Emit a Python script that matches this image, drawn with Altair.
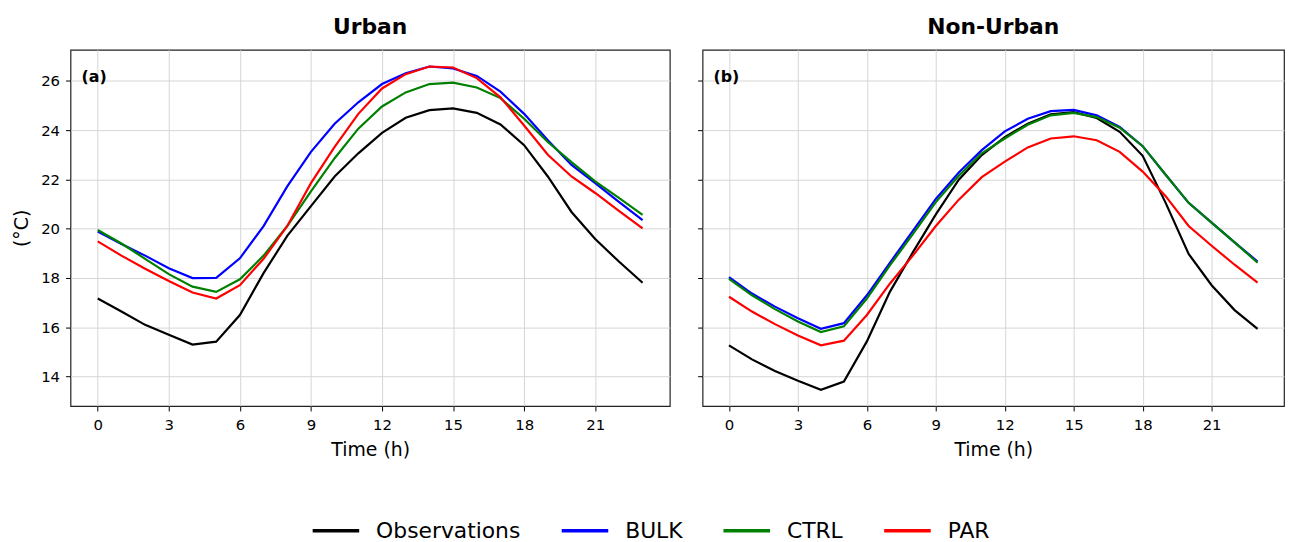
import altair as alt
import pandas as pd

hours = list(range(24))
series_names = ["Observations", "BULK", "CTRL", "PAR"]
series_colors = ["#000000", "#0000ff", "#008000", "#ff0000"]

urban_obs = [17.17, 16.64, 16.10, 15.70, 15.30, 15.42, 16.50, 18.20, 19.71, 20.92, 22.12, 23.06,
             23.89, 24.50, 24.81, 24.88, 24.70, 24.23, 23.39, 22.12, 20.68, 19.58, 18.67, 17.81]
urban_bulk = [19.89, 19.38, 18.91, 18.40, 18.00, 18.01, 18.80, 20.11, 21.72, 23.12, 24.26, 25.13,
              25.87, 26.31, 26.58, 26.50, 26.20, 25.56, 24.66, 23.59, 22.59, 21.85, 21.09, 20.35]
urban_ctrl = [19.95, 19.40, 18.78, 18.16, 17.65, 17.44, 17.95, 18.91, 20.11, 21.52, 22.86, 24.06,
              24.96, 25.53, 25.87, 25.93, 25.73, 25.30, 24.46, 23.52, 22.70, 21.92, 21.25, 20.56]
urban_par = [19.49, 18.91, 18.38, 17.88, 17.41, 17.17, 17.71, 18.78, 20.11, 21.85, 23.32, 24.66,
             25.69, 26.27, 26.58, 26.54, 26.11, 25.33, 24.19, 23.00, 22.12, 21.45, 20.72, 20.01]

rural_obs = [15.27, 14.70, 14.23, 13.83, 13.47, 13.80, 15.43, 17.44, 19.04, 20.58, 21.99, 22.99,
             23.72, 24.26, 24.64, 24.73, 24.49, 23.93, 22.96, 21.05, 18.98, 17.71, 16.70, 15.94]
rural_bulk = [18.04, 17.37, 16.84, 16.37, 15.94, 16.17, 17.30, 18.62, 19.91, 21.21, 22.28, 23.19,
              23.95, 24.46, 24.77, 24.82, 24.60, 24.13, 23.35, 22.19, 21.05, 20.25, 19.45, 18.67]
rural_ctrl = [17.97, 17.30, 16.74, 16.24, 15.81, 16.04, 17.17, 18.51, 19.78, 21.08, 22.15, 23.06,
              23.66, 24.22, 24.60, 24.70, 24.53, 24.10, 23.35, 22.19, 21.05, 20.25, 19.45, 18.62]
rural_par = [17.24, 16.64, 16.13, 15.67, 15.27, 15.46, 16.50, 17.77, 18.91, 20.11, 21.18, 22.09,
             22.72, 23.30, 23.66, 23.75, 23.59, 23.12, 22.32, 21.32, 20.11, 19.31, 18.54, 17.81]

x_ticks = [0, 3, 6, 9, 12, 15, 18, 21]
y_ticks = [14, 16, 18, 20, 22, 24, 26]

rows = []
for panel, data in [("Urban", [urban_obs, urban_bulk, urban_ctrl, urban_par]),
                    ("Non-Urban", [rural_obs, rural_bulk, rural_ctrl, rural_par])]:
    for name, vals in zip(series_names, data):
        for h, v in zip(hours, vals):
            rows.append({"panel": panel, "series": name, "hour": h, "temp": v})
df = pd.DataFrame(rows)

FONT = "DejaVu Sans"
color_scale = alt.Scale(domain=series_names, range=series_colors)
xscale = alt.Scale(domain=[-1.15, 24.15], nice=False, zero=False)
yscale = alt.Scale(domain=[12.81, 27.26], nice=False, zero=False)


def panel(name, label, show_y, width, show_legend):
    base = alt.Chart(df).transform_filter(alt.datum.panel == name)
    legend = alt.Legend(
        orient="none", direction="horizontal", title=None,
        legendX=242, legendY=459,
        symbolType="stroke", symbolSize=2200, symbolStrokeWidth=3.5,
        labelFontSize=22, labelFont=FONT, labelColor="#000000",
        columnPadding=34, labelOffset=15,
    ) if show_legend else None
    yaxis = alt.Axis(
        values=y_ticks, labels=show_y, title="(°C)" if show_y else None,
        titleFontSize=19, titleFontWeight="normal", titleFont=FONT, titlePadding=9,
        labelFontSize=15, labelFont=FONT, labelColor="#000000", labelPadding=6,
        tickColor="#000000", tickSize=5, domain=False,
        grid=True, gridColor="#d6d6d6", gridWidth=1,
    )
    lines = base.mark_line(strokeWidth=2.2, clip=True).encode(
        x=alt.X("hour:Q", scale=xscale, axis=alt.Axis(
            values=x_ticks, title="Time (h)", titleFontSize=19, titleFontWeight="normal",
            titleFont=FONT, titlePadding=8, labelFontSize=15, labelFont=FONT,
            labelColor="#000000", labelPadding=7, tickColor="#000000", tickSize=5,
            domain=False, grid=True, gridColor="#d6d6d6", gridWidth=1, labelFlush=False,
        )),
        y=alt.Y("temp:Q", scale=yscale, axis=yaxis),
        color=alt.Color("series:N", scale=color_scale, sort=series_names, legend=legend),
        detail="series:N",
    )
    tag = alt.Chart(pd.DataFrame({"t": [label]})).mark_text(
        font=FONT, fontSize=16, fontWeight="bold", align="left", baseline="middle", color="#000000"
    ).encode(text="t:N", x=alt.value(11), y=alt.value(27))
    return alt.layer(lines, tag).properties(
        width=width, height=359,
        title=alt.TitleParams(name, fontSize=22, fontWeight="bold", font=FONT,
                              color="#000000", offset=11, anchor="middle"),
    )


left = panel("Urban", "(a)", True, 604, True)
right = panel("Non-Urban", "(b)", False, 586, False)

chart = alt.hconcat(left, right, spacing=25).resolve_scale(
    y="shared", color="shared"
).configure(
    padding={"left": 4, "top": 5, "right": 0, "bottom": 0}, background="white"
).configure_view(stroke="#222222", strokeWidth=1.2)

chart.save("out.html", embed_options={"renderer": "svg", "actions": False})
